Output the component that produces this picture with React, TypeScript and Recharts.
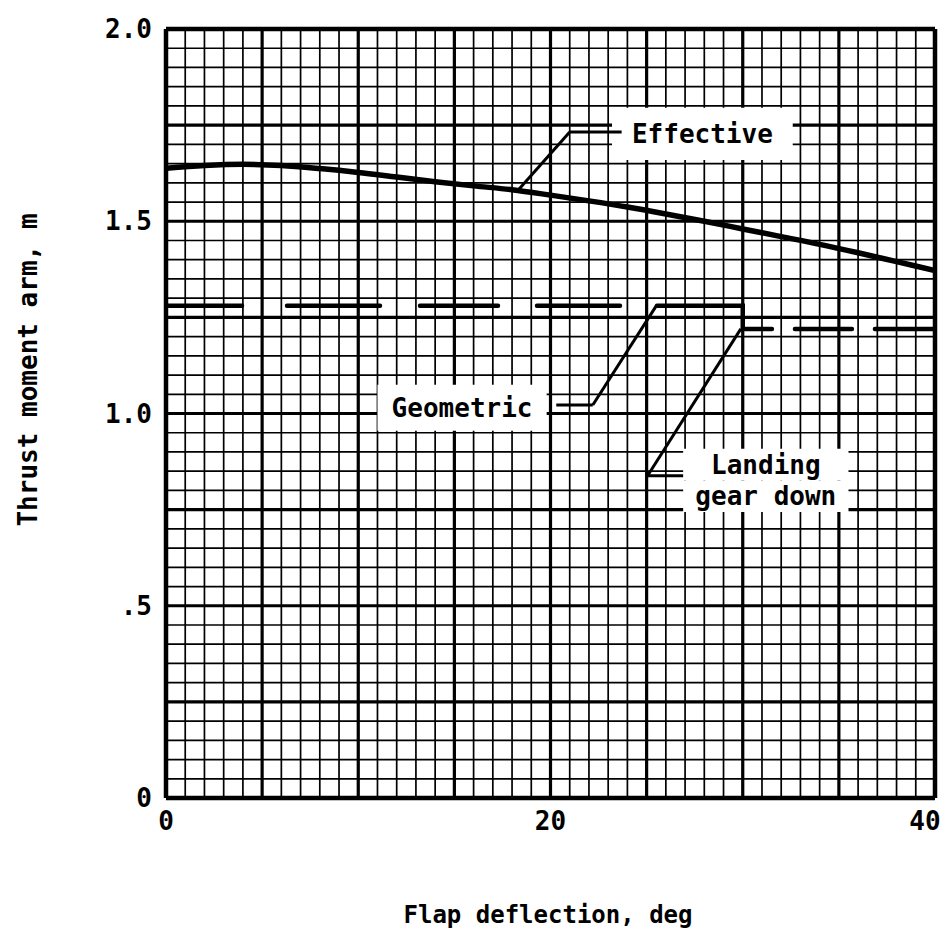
import { LineChart, Line, XAxis, YAxis, CartesianGrid, ReferenceLine, ReferenceArea, Label } from 'recharts';

const FONT = '"DejaVu Sans Mono", monospace';

// flap deflection, deg
const flapDeg = [0, 2, 4, 6, 8, 10, 12, 14, 16, 18, 20, 22, 24, 26, 28, 30, 32, 34, 36, 38, 40];
// effective thrust moment arm, m
const effectiveArm = [1.638, 1.645, 1.648, 1.645, 1.637, 1.627, 1.615, 1.603, 1.592, 1.582, 1.568, 1.553, 1.537, 1.519, 1.5, 1.48, 1.46, 1.44, 1.418, 1.395, 1.372];

// geometric arm: gear up to 30 deg, then landing gear down
const geometricDeg = [0, 30, 30, 40];
const geometricArm = [1.28, 1.28, 1.22, 1.22];

const xTicks = [0, 20, 40];
const yTicks = [0, 0.5, 1.0, 1.5, 2.0];
const yTickLabels: Record<number, string> = { 0: '0', 0.5: '.5', 1: '1.0', 1.5: '1.5', 2: '2.0' };

// graph paper: fine lines every 1 deg / 0.05 m, heavy every 5 deg / 0.25 m
const gridX = Array.from({ length: 41 }, (_, i) => i);
const gridY = Array.from({ length: 41 }, (_, i) => +(i * 0.05).toFixed(2));
const majorX = [0, 5, 10, 15, 20, 25, 30, 35, 40];
const majorY = [0, 0.25, 0.5, 0.75, 1.0, 1.25, 1.5, 1.75, 2.0];

const effectiveData = flapDeg.map((d, i) => ({ deg: d, arm: effectiveArm[i] }));
const geometricData = geometricDeg.map((d, i) => ({ deg: d, arm: geometricArm[i] }));

const labelStyle = { fill: '#000', fontSize: 26, fontFamily: FONT, fontWeight: 'bold' as const };

const XTick = (props: any) => {
  const { x, y, payload } = props;
  // last label sits a little inside so it is not clipped
  const shift = payload.value === 40 ? -10 : 0;
  return (
    <text x={x + shift} y={y} dy="0.71em" textAnchor="middle" style={labelStyle}>
      {payload.value}
    </text>
  );
};

export default function App() {
  return (
    <div style={{ width: 940, height: 930, background: '#fff' }}>
      <LineChart width={940} height={930} margin={{ top: 21, right: 13, bottom: 0, left: 0 }}>
        <CartesianGrid verticalValues={gridX} horizontalValues={gridY} stroke="#000" strokeWidth={1.7} />
        <CartesianGrid verticalValues={majorX} horizontalValues={majorY} stroke="#000" strokeWidth={3.2} />
        <XAxis
          dataKey="deg"
          type="number"
          domain={[0, 40]}
          ticks={xTicks}
          interval={0}
          height={140}
          axisLine={false}
          tickLine={false}
          tickSize={0}
          tickMargin={14}
          tick={XTick}
          allowDataOverflow
        >
          <Label
            content={() => (
              <text x={540} y={907} textAnchor="middle" dominantBaseline="central" style={{ ...labelStyle, fontSize: 24 }}>
                Flap deflection, deg
              </text>
            )}
          />
        </XAxis>
        <YAxis
          type="number"
          domain={[0, 2]}
          ticks={yTicks}
          interval={0}
          width={158}
          axisLine={false}
          tickLine={false}
          tickSize={0}
          tickMargin={14}
          tickFormatter={(v: number) => yTickLabels[v] ?? String(v)}
          tick={labelStyle}
          allowDataOverflow
        >
          <Label
            content={() => (
              <text
                x={20}
                y={362}
                transform="rotate(-90 20 362)"
                textAnchor="middle"
                dominantBaseline="central"
                style={labelStyle}
              >
                Thrust moment arm, m
              </text>
            )}
          />
        </YAxis>

        {/* heavy border */}
        <ReferenceLine x={0} stroke="#000" strokeWidth={4.5} />
        <ReferenceLine x={40} stroke="#000" strokeWidth={4.5} />
        <ReferenceLine y={0} stroke="#000" strokeWidth={4.5} />
        <ReferenceLine y={2} stroke="#000" strokeWidth={4.5} />

        {/* label boxes clear the grid */}
        <ReferenceArea x1={23.2} x2={32.6} y1={1.659} y2={1.795} fill="#fff" fillOpacity={1} stroke="none">
          <Label value="Effective" position="center" style={labelStyle} />
        </ReferenceArea>
        <ReferenceArea x1={11.0} x2={19.8} y1={0.955} y2={1.075} fill="#fff" fillOpacity={1} stroke="none">
          <Label value="Geometric" position="center" style={labelStyle} />
        </ReferenceArea>
        <ReferenceArea x1={26.9} x2={35.5} y1={0.826} y2={0.908} fill="#fff" fillOpacity={1} stroke="none">
          <Label value="Landing" position="center" style={labelStyle} />
        </ReferenceArea>
        <ReferenceArea x1={26.9} x2={35.5} y1={0.744} y2={0.826} fill="#fff" fillOpacity={1} stroke="none">
          <Label value="gear down" position="center" style={labelStyle} />
        </ReferenceArea>

        {/* leader lines */}
        <ReferenceLine segment={[{ x: 18.3, y: 1.58 }, { x: 21.0, y: 1.732 }]} stroke="#000" strokeWidth={3} />
        <ReferenceLine segment={[{ x: 21.0, y: 1.732 }, { x: 23.7, y: 1.732 }]} stroke="#000" strokeWidth={3} />
        <ReferenceLine segment={[{ x: 20.3, y: 1.022 }, { x: 22.2, y: 1.022 }]} stroke="#000" strokeWidth={3} />
        <ReferenceLine segment={[{ x: 22.2, y: 1.022 }, { x: 25.5, y: 1.28 }]} stroke="#000" strokeWidth={3} />
        <ReferenceLine segment={[{ x: 25.05, y: 0.838 }, { x: 26.9, y: 0.838 }]} stroke="#000" strokeWidth={3} />
        <ReferenceLine segment={[{ x: 25.05, y: 0.838 }, { x: 29.9, y: 1.22 }]} stroke="#000" strokeWidth={3} />

        <Line
          data={effectiveData}
          dataKey="arm"
          type="monotone"
          stroke="#000"
          strokeWidth={5.5}
          dot={false}
          isAnimationActive={false}
        />
        <Line
          data={geometricData}
          dataKey="arm"
          type="linear"
          stroke="#000"
          strokeWidth={4.5}
          strokeDasharray="76 45 93 40 78 39 83 37 138 23 57 23 62"
          strokeLinecap="round"
          dot={false}
          isAnimationActive={false}
        />
      </LineChart>
    </div>
  );
}
